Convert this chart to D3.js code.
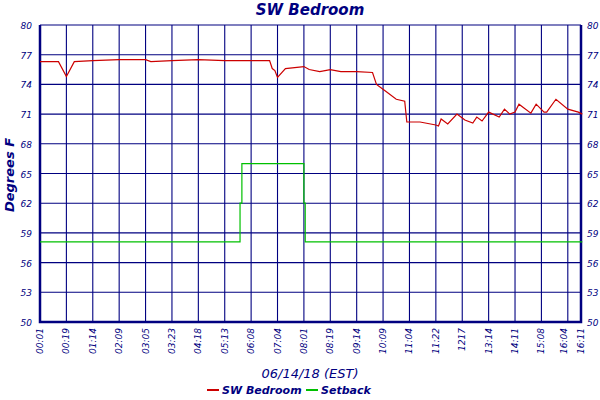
<!DOCTYPE html>
<html><head><meta charset="utf-8">
<script src="https://cdn.jsdelivr.net/npm/d3@7"></script>
<style>body{margin:0;background:#fff}text{font-family:"DejaVu Sans",sans-serif;font-style:italic;fill:#000080}</style>
</head><body><svg id="c" width="600" height="400"></svg>
<script>
const tickLabels = ["00:01","00:19","01:14","02:09","03:05","03:23","04:18","05:13","06:08","07:04","08:01","08:19","09:14","10:09","11:04","11:22","1217","13:14","14:11","15:08","16:04","16:11"];
const tickPos = [0,1,2,3,4,5,6,7,8,9,10,11,12,13,14,15,16,17,18,19,20,20.5];
const yTicks = [50,53,56,59,62,65,68,71,74,77,80];
// SW Bedroom (x in tick-index units)
const roomX = [0,0.7,1.0,1.3,2,3,4,4.2,5,6,7,8,8.7,8.8,8.9,9.0,9.3,10,10.2,10.6,11,11.4,12,12.6,12.75,13.1,13.5,13.82,13.9,14.4,15,15.1,15.2,15.45,15.8,16.1,16.4,16.55,16.75,17,17.4,17.6,17.8,18,18.15,18.6,18.8,19.1,19.2,19.55,20,20.4,20.55];
const roomY = [76.3,76.3,74.8,76.3,76.4,76.5,76.5,76.3,76.4,76.5,76.4,76.4,76.4,75.6,75.4,74.7,75.6,75.8,75.5,75.3,75.5,75.3,75.3,75.2,74.0,73.3,72.5,72.3,70.2,70.2,69.9,69.8,70.5,70.0,71.0,70.4,70.1,70.7,70.3,71.2,70.7,71.5,71.0,71.2,72.0,71.1,72.0,71.2,71.2,72.5,71.5,71.2,71.0];
// Setback
const setX = [0,7.58,7.58,7.65,7.65,10.0,10.0,10.05,10.05,20.55];
const setY = [58.1,58.1,62,62,66,66,62,62,58.1,58.1];

const svg = d3.select("#c");
const x = d3.scaleLinear().domain([0,20.5]).range([40,581]);
const y = d3.scaleLinear().domain([50,80]).range([322,25]);
const navy = "#000080";

svg.append("g").selectAll("line").data(tickPos).join("line")
  .attr("x1",d=>x(d)).attr("x2",d=>x(d)).attr("y1",y(80)).attr("y2",y(50))
  .attr("stroke",navy).attr("stroke-width",1.1);
svg.append("g").selectAll("line").data(yTicks).join("line")
  .attr("x1",x(0)).attr("x2",x(20.5)).attr("y1",d=>y(d)).attr("y2",d=>y(d))
  .attr("stroke",navy).attr("stroke-width",1.1);
svg.append("path").attr("fill","none").attr("stroke",navy).attr("stroke-width",2.5)
  .attr("d",`M${x(0)},${y(80)}V${y(50)}H${x(20.5)}V${y(80)}`);

svg.append("g").selectAll("text").data(yTicks).join("text")
  .attr("x",x(0)-8).attr("y",d=>y(d)+4).attr("text-anchor","end").attr("font-size",9).text(d=>d);
svg.append("g").selectAll("text").data(yTicks).join("text")
  .attr("x",x(20.5)+6).attr("y",d=>y(d)+4).attr("font-size",9).text(d=>d);
svg.append("g").selectAll("text").data(tickPos).join("text")
  .attr("transform",(d,i)=>`translate(${x(d)+(i==20?-1:3)},328) rotate(-90)`)
  .attr("text-anchor","end").attr("font-size",9).text((d,i)=>tickLabels[i]);

const line = d3.line().x(d=>x(d[0])).y(d=>y(d[1]));
svg.append("path").datum(setX.map((v,i)=>[v,setY[i]])).attr("d",line)
  .attr("fill","none").attr("stroke","#00c000").attr("stroke-width",1.2);
svg.append("path").datum(roomX.map((v,i)=>[v,roomY[i]])).attr("d",line)
  .attr("fill","none").attr("stroke","#cc0000").attr("stroke-width",1.2);

svg.append("text").attr("x",310).attr("y",15).attr("text-anchor","middle")
  .attr("font-size",15).attr("font-weight","bold").text("SW Bedroom");
svg.append("text").attr("transform","translate(14,175) rotate(-90)").attr("text-anchor","middle")
  .attr("font-size",13).attr("font-weight","bold").text("Degrees F");
svg.append("text").attr("x",310).attr("y",378).attr("text-anchor","middle")
  .attr("font-size",13).text("06/14/18 (EST)");
const leg = [["SW Bedroom","#cc0000",207],["Setback","#00c000",306]];
leg.forEach(l=>{
  svg.append("line").attr("x1",l[2]).attr("x2",l[2]+12).attr("y1",390).attr("y2",390).attr("stroke",l[1]).attr("stroke-width",2);
  svg.append("text").attr("x",l[2]+15).attr("y",394).attr("font-size",11).attr("font-weight","bold").text(l[0]);
});
</script></body></html>
